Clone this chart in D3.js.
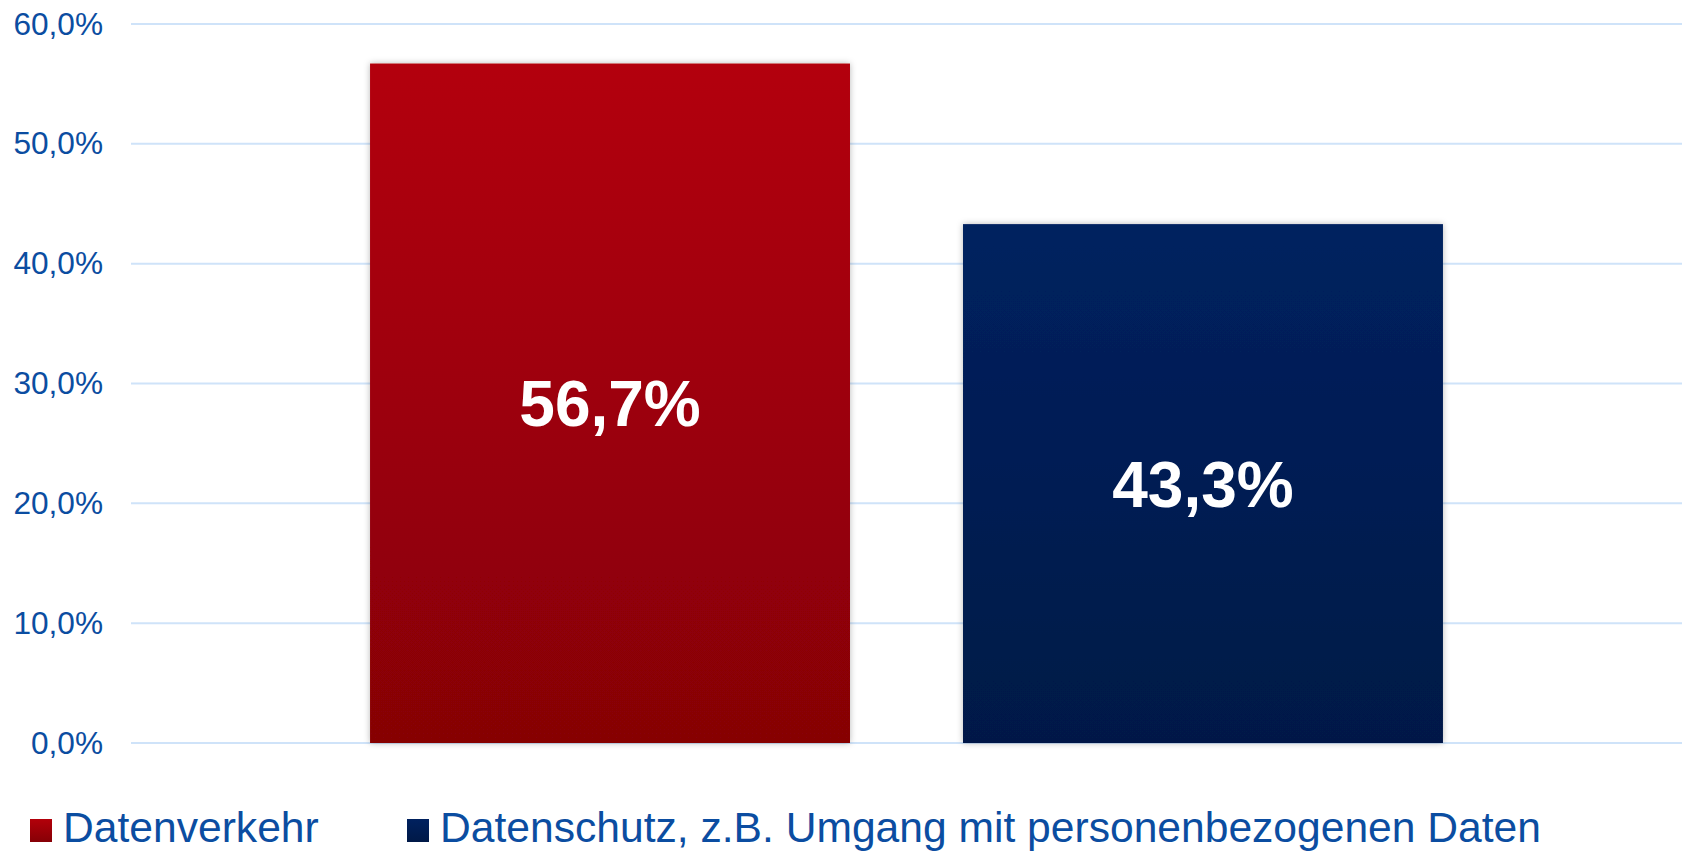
<!DOCTYPE html>
<html>
<head>
<meta charset="utf-8">
<script src="https://cdn.jsdelivr.net/npm/d3@7"></script>
<style>
  html, body { margin: 0; padding: 0; background: #fff; }
  svg { display: block; font-family: "Liberation Sans", Arial, sans-serif; }
</style>
</head>
<body>
<div id="chart"></div>
<script>
// data
const categories = [""];
const seriesNames = ["Datenverkehr", "Datenschutz, z.B. Umgang mit personenbezogenen Daten"];
const seriesValues = [56.7, 43.3];
const tickValues = [0, 10, 20, 30, 40, 50, 60];

const colors = {
    "Datenverkehr": ["#b3000a", "#860006"],
    "Datenschutz, z.B. Umgang mit personenbezogenen Daten": ["#00215f", "#001947"]
};

const width = 1687, height = 852;
const margin = { top: 24, right: 5, bottom: 109, left: 131 };

const svg = d3.select("#chart").append("svg")
    .attr("width", width)
    .attr("height", height);

const defs = svg.append("defs");
seriesNames.forEach((s, i) => {
    const g = defs.append("linearGradient")
        .attr("id", "grad" + i)
        .attr("x1", 0).attr("y1", 0).attr("x2", 0).attr("y2", 1);
    g.append("stop").attr("offset", "0%").attr("stop-color", colors[s][0]);
    g.append("stop").attr("offset", "100%").attr("stop-color", colors[s][1]);
});
const shadow = defs.append("filter")
    .attr("id", "shadow")
    .attr("x", "-10%").attr("y", "-10%").attr("width", "120%").attr("height", "120%");
shadow.append("feDropShadow")
    .attr("dx", 0).attr("dy", 0)
    .attr("stdDeviation", 3)
    .attr("flood-color", "#000")
    .attr("flood-opacity", 0.28);

const de = d3.formatLocale({ decimal: ",", thousands: ".", grouping: [3], currency: ["", " €"] });
const fmt = de.format(".1f");

const y = d3.scaleLinear()
    .domain([0, 60])
    .range([height - margin.bottom, margin.top]);

const x0 = d3.scaleBand()
    .domain(categories)
    .range([margin.left, width - margin.right])
    .paddingInner(0)
    .paddingOuter(0.2228);

const x1 = d3.scaleBand()
    .domain(seriesNames)
    .range([0, x0.bandwidth()])
    .paddingInner(0.1906)
    .paddingOuter(0);

// gridlines
svg.append("g")
    .selectAll("line")
    .data(tickValues)
    .join("line")
    .attr("x1", margin.left)
    .attr("x2", width - margin.right)
    .attr("y1", d => y(d))
    .attr("y2", d => y(d))
    .attr("stroke", "#cfe3f9")
    .attr("stroke-width", 2);

// y axis labels
const yAxis = d3.axisLeft(y)
    .tickValues(tickValues)
    .tickSize(0)
    .tickPadding(28)
    .tickFormat(d => fmt(d) + "%");

svg.append("g")
    .attr("transform", `translate(${margin.left},0)`)
    .call(yAxis)
    .call(g => g.select(".domain").remove())
    .selectAll("text")
    .attr("font-family", "'Liberation Sans', Arial, sans-serif")
    .attr("font-size", "31.6px")
    .attr("fill", "#0b4da1");

// bars
const barData = seriesNames.map((s, i) => ({ series: s, value: seriesValues[i], idx: i, cat: categories[0] }));

const bars = svg.append("g")
    .selectAll("g")
    .data(barData)
    .join("g");

bars.append("rect")
    .attr("x", d => x0(d.cat) + x1(d.series))
    .attr("y", d => y(d.value))
    .attr("width", x1.bandwidth())
    .attr("height", d => y(0) - y(d.value))
    .attr("fill", d => `url(#grad${d.idx})`)
    .style("filter", "url(#shadow)");

bars.append("text")
    .attr("x", d => x0(d.cat) + x1(d.series) + x1.bandwidth() / 2)
    .attr("y", d => (y(d.value) + y(0)) / 2)
    .attr("dy", "0.36em")
    .attr("text-anchor", "middle")
    .attr("font-size", "64px")
    .attr("font-weight", "bold")
    .attr("fill", "#fff")
    .text(d => fmt(d.value) + "%");

// legend
const legendX = [30, 407];
const legend = svg.append("g")
    .selectAll("g")
    .data(seriesNames)
    .join("g")
    .attr("transform", (d, i) => `translate(${legendX[i]},819)`);

legend.append("rect")
    .attr("width", 22)
    .attr("height", 23)
    .attr("fill", (d, i) => `url(#grad${i})`);

legend.append("text")
    .attr("x", 33)
    .attr("y", 23)
    .attr("font-size", "42.6px")
    .attr("fill", "#0b4da1")
    .text(d => d);
</script>
</body>
</html>
